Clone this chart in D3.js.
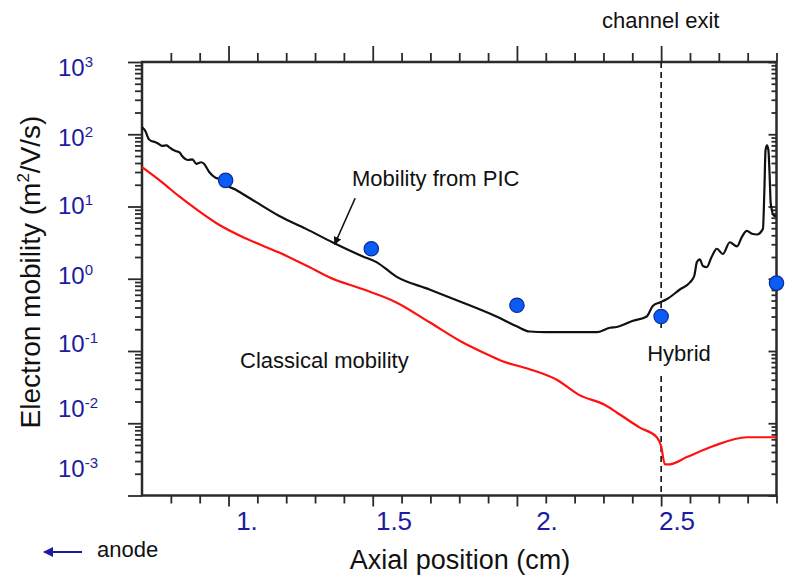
<!DOCTYPE html>
<html>
<head>
<meta charset="utf-8">
<script src="https://cdn.jsdelivr.net/npm/d3@7"></script>
<style>
  body { margin: 0; background: #fff; }
  svg { display: block; font-family: "Liberation Sans", Arial, sans-serif; }
</style>
</head>
<body>
<div id="chart"></div>
<script>
// Mobility from PIC (black line)
const picX = [0.70, 0.712, 0.724, 0.735, 0.745, 0.757, 0.769, 0.785, 0.795, 0.804, 0.82, 0.83, 0.839, 0.86, 0.875,
  0.888, 0.905, 0.915, 0.933, 0.955, 0.97, 0.978, 0.99, 1.0, 1.02, 1.037, 1.096, 1.176, 1.269, 1.36, 1.464,
  1.513, 1.582, 1.697, 1.811, 1.929, 1.999, 2.044, 2.103, 2.276, 2.322, 2.346, 2.40, 2.45, 2.471, 2.495, 2.519,
  2.565, 2.60, 2.615, 2.624, 2.634, 2.645, 2.658, 2.675, 2.693, 2.714, 2.738, 2.763, 2.78, 2.797, 2.815, 2.832,
  2.853, 2.858, 2.862, 2.867, 2.872, 2.876, 2.88, 2.892, 2.9];
const picY = [126, 110, 85, 80, 78, 74, 69, 70, 66, 62, 58, 56, 50, 44, 45,
  39, 41, 39, 30, 25, 24, 22, 21, 19, 17.5, 16, 11.5, 7.4, 4.9, 3.2, 2.05,
  1.7, 1.07, 0.71, 0.47, 0.30, 0.22, 0.186, 0.182, 0.182, 0.21, 0.215, 0.26, 0.30, 0.42, 0.47, 0.52,
  0.71, 0.89, 1.1, 1.7, 1.85, 1.5, 1.45, 2.0, 2.6, 2.2, 3.2, 2.8, 3.8, 4.6, 4.2, 4.1,
  4.9, 17, 60, 70, 60, 28, 11, 7.4, 7.4];

// Classical mobility (red line)
const classX = [0.70, 0.769, 0.828, 0.888, 0.967, 1.061, 1.176, 1.28, 1.349, 1.464, 1.582, 1.697, 1.811, 1.881,
  1.95, 2.044, 2.138, 2.217, 2.304, 2.346, 2.426, 2.485, 2.50, 2.513, 2.53, 2.589, 2.679, 2.797, 2.9];
const classY = [35, 21.7, 13.9, 9.2, 5.6, 3.6, 2.3, 1.45, 1.05, 0.72, 0.47, 0.25, 0.132, 0.096,
  0.072, 0.056, 0.040, 0.0245, 0.018, 0.0141, 0.0087, 0.0064, 0.0048, 0.0027, 0.0027, 0.0034, 0.0048, 0.0064, 0.0064];

// Hybrid points (blue dots)
const hybridX = [0.99, 1.495, 2.0, 2.5, 2.9];
const hybridY = [23, 2.6, 0.43, 0.30, 0.87];

// tick labels
const xTickValues = [1.0, 1.5, 2.0, 2.5];
const xTickLabels = ['1.', '1.5', '2.', '2.5'];
const yTickExps = [3, 2, 1, 0, -1, -2, -3];

const channelExit = 2.5;

// layout
const width = 787, height = 577;
const plot = {left: 142, right: 776.5, top: 62, bottom: 495.5};
const axisColor = '#2a2a2a';
const labelBlue = '#1c1ca0';

const svg = d3.select('#chart').append('svg')
  .attr('width', width)
  .attr('height', height);

const x = d3.scaleLinear().domain([0.7, 2.9]).range([plot.left, plot.right]);
const y = d3.scaleLog().domain([1e-3, 1e3]).range([plot.bottom, plot.top]);

// the printed labels sit a bit off their ticks in the original figure
const xLabel = d3.scaleLinear().domain([1.0, 1.5, 2.0, 2.5]).range([247, 394, 547, 677]);
const yLabel = d3.scaleLinear().domain([3, 2, 1, 0, -1, -2, -3]).range([67, 137, 205, 275, 343, 408, 468]);

// tick values
const xMinor = d3.range(8, 30).map(d => d / 10).filter(d => d % 0.5 > 0.01 && d % 0.5 < 0.49);
const xMajor = xTickValues;
const yMajor = yTickExps.map(e => Math.pow(10, e));
const yMinor = [];
for (let e = -3; e < 3; e++) {
  for (let m = 2; m <= 9; m++) yMinor.push(m * Math.pow(10, e));
}

function tickAxis(axis, values, size, transform) {
  const g = svg.append('g')
    .attr('transform', transform)
    .call(axis.tickValues(values).tickSize(size).tickFormat(''));
  g.select('.domain').remove();
  g.selectAll('.tick line').attr('stroke', axisColor).attr('stroke-width', 1.8);
  return g;
}

// bottom / top ticks
tickAxis(d3.axisBottom(x), xMinor, 8, `translate(0,${plot.bottom})`);
tickAxis(d3.axisBottom(x), xMajor, 11, `translate(0,${plot.bottom})`);
tickAxis(d3.axisTop(x), xMinor, 9, `translate(0,${plot.top})`);
tickAxis(d3.axisTop(x), xMajor, 16, `translate(0,${plot.top})`);

// left / right ticks
tickAxis(d3.axisLeft(y), yMinor, 7, `translate(${plot.left},0)`);
tickAxis(d3.axisLeft(y), yMajor, 14, `translate(${plot.left},0)`);
tickAxis(d3.axisLeft(y), yMinor, 5, `translate(${plot.right},0)`);
tickAxis(d3.axisLeft(y), yMajor, 8, `translate(${plot.right},0)`);

// frame
svg.append('rect')
  .attr('x', plot.left)
  .attr('y', plot.top)
  .attr('width', plot.right - plot.left)
  .attr('height', plot.bottom - plot.top)
  .attr('fill', 'none')
  .attr('stroke', axisColor)
  .attr('stroke-width', 2.5);

// x tick labels
svg.append('g').selectAll('text')
  .data(xTickValues)
  .join('text')
  .attr('x', d => xLabel(d))
  .attr('y', 530)
  .attr('text-anchor', 'middle')
  .attr('font-size', 26)
  .attr('fill', labelBlue)
  .text((d, i) => xTickLabels[i]);

// y tick labels
const yl = svg.append('g').selectAll('text')
  .data(yTickExps)
  .join('text')
  .attr('x', 58)
  .attr('y', d => yLabel(d) + 8.5)
  .attr('font-size', 24)
  .attr('fill', labelBlue);
yl.append('tspan').text('10');
yl.append('tspan')
  .attr('font-size', 15)
  .attr('dy', -9)
  .text(d => d);

// channel exit dashed line (gap around "Hybrid")
const dash = svg.append('g')
  .attr('stroke', '#111')
  .attr('stroke-width', 1.6)
  .attr('stroke-dasharray', '6,4');
dash.append('line')
  .attr('x1', x(channelExit)).attr('x2', x(channelExit))
  .attr('y1', plot.top).attr('y2', 328);
dash.append('line')
  .attr('x1', x(channelExit)).attr('x2', x(channelExit))
  .attr('y1', 376).attr('y2', plot.bottom);

// curves
const line = d3.line()
  .x(d => x(d[0]))
  .y(d => y(d[1]))
  .curve(d3.curveMonotoneX);

svg.append('path')
  .datum(classX.map((d, i) => [d, classY[i]]))
  .attr('d', line)
  .attr('fill', 'none')
  .attr('stroke', '#ff1010')
  .attr('stroke-width', 2.2);

svg.append('path')
  .datum(picX.map((d, i) => [d, picY[i]]))
  .attr('d', line)
  .attr('fill', 'none')
  .attr('stroke', '#111')
  .attr('stroke-width', 2.2);

// hybrid dots
svg.append('g').selectAll('circle')
  .data(hybridX.map((d, i) => [d, hybridY[i]]))
  .join('circle')
  .attr('cx', d => x(d[0]))
  .attr('cy', d => y(d[1]))
  .attr('r', 7.2)
  .attr('fill', '#0a5cf5')
  .attr('stroke', '#0a2a9a')
  .attr('stroke-width', 1.2);

// arrows
const defs = svg.append('defs');
defs.append('marker')
  .attr('id', 'headBlack')
  .attr('viewBox', '0 0 10 10')
  .attr('refX', 9).attr('refY', 5)
  .attr('markerWidth', 5).attr('markerHeight', 5)
  .attr('orient', 'auto')
  .append('path').attr('d', 'M0,0 L10,5 L0,10 z').attr('fill', '#111');
defs.append('marker')
  .attr('id', 'headBlue')
  .attr('viewBox', '0 0 10 10')
  .attr('refX', 9).attr('refY', 5)
  .attr('markerWidth', 5).attr('markerHeight', 5)
  .attr('orient', 'auto')
  .append('path').attr('d', 'M0,0 L10,5 L0,10 z').attr('fill', labelBlue);

svg.append('line')
  .attr('x1', x(1.439)).attr('y1', y(13))
  .attr('x2', x(1.368)).attr('y2', y(3.0))
  .attr('stroke', '#111')
  .attr('stroke-width', 1.6)
  .attr('marker-end', 'url(#headBlack)');

svg.append('line')
  .attr('x1', 82).attr('y1', 552)
  .attr('x2', 44).attr('y2', 552)
  .attr('stroke', labelBlue)
  .attr('stroke-width', 2)
  .attr('marker-end', 'url(#headBlue)');

// annotations
const notes = [
  {text: 'Mobility from PIC', x: 352, y: 186, anchor: 'start'},
  {text: 'Classical mobility', x: 240, y: 368, anchor: 'start'},
  {text: 'Hybrid', x: 679, y: 361, anchor: 'middle'},
  {text: 'channel exit', x: 602, y: 28, anchor: 'start'},
  {text: 'anode', x: 97, y: 557, anchor: 'start'}
];
svg.append('g').selectAll('text')
  .data(notes)
  .join('text')
  .attr('x', d => d.x)
  .attr('y', d => d.y)
  .attr('text-anchor', d => d.anchor)
  .attr('font-size', 22)
  .attr('fill', '#111')
  .text(d => d.text);

// axis titles
svg.append('text')
  .attr('x', 460)
  .attr('y', 569)
  .attr('text-anchor', 'middle')
  .attr('font-size', 27)
  .attr('fill', '#111')
  .text('Axial position (cm)');

const yTitle = svg.append('text')
  .attr('transform', 'translate(40,272) rotate(-90)')
  .attr('text-anchor', 'middle')
  .attr('font-size', 28)
  .attr('fill', '#111');
yTitle.append('tspan').text('Electron mobility (m');
yTitle.append('tspan').attr('font-size', 17).attr('dy', -11).text('2');
yTitle.append('tspan').attr('dy', 11).text('/V/s)');
</script>
</body>
</html>
